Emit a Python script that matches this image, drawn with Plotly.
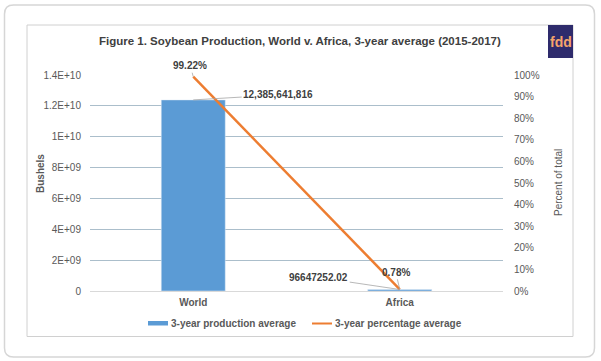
import plotly.graph_objects as go

# ---- data ----
categories = ["World", "Africa"]
production = [12385641816, 96647252.02]
percentage = [0.9922, 0.0078]
prod_labels = ["12,385,641,816", "96647252.02"]
pct_labels = ["99.22%", "0.78%"]
left_ticks = [0, 2e9, 4e9, 6e9, 8e9, 1e10, 1.2e10, 1.4e10]
left_ticktext = ["0", "2E+09", "4E+09", "6E+09", "8E+09", "1E+10", "1.2E+10", "1.4E+10"]

W, H = 601, 361
L, R, T, B = 90, 503, 75, 291
FONT = "Liberation Sans, Arial, sans-serif"


def X(px):
    return (px - L) / (R - L)


def Y(py):
    return (B - py) / (B - T)


fig = go.Figure()
fig.add_trace(go.Bar(
    x=categories, y=production, marker_color="#5b9bd5", width=0.31,
    name="3-year production average", showlegend=False, hoverinfo="skip",
))
fig.add_trace(go.Scatter(
    x=categories, y=percentage, yaxis="y2", mode="lines",
    line=dict(color="#ed7d31", width=2.5),
    name="3-year percentage average", showlegend=False, hoverinfo="skip",
))

shapes = []
annotations = []

# outer card (rounded)
x0, y0, x1, y1, r = 4.5, 5, 594.5, 357, 9
path = (f"M {X(x0+r)},{Y(y0)} L {X(x1-r)},{Y(y0)} Q {X(x1)},{Y(y0)} {X(x1)},{Y(y0+r)} "
        f"L {X(x1)},{Y(y1-r)} Q {X(x1)},{Y(y1)} {X(x1-r)},{Y(y1)} "
        f"L {X(x0+r)},{Y(y1)} Q {X(x0)},{Y(y1)} {X(x0)},{Y(y1-r)} "
        f"L {X(x0)},{Y(y0+r)} Q {X(x0)},{Y(y0)} {X(x0+r)},{Y(y0)} Z")
shapes.append(dict(type="path", xref="paper", yref="paper", path=path,
                   line=dict(color="#d6d6d6", width=1.5), layer="below"))
# inner frame
shapes.append(dict(type="rect", xref="paper", yref="paper",
                   x0=X(27), x1=X(573), y0=Y(25), y1=Y(336.5),
                   line=dict(color="#d0d0d0", width=1), layer="below"))
# logo box
shapes.append(dict(type="rect", xref="paper", yref="paper",
                   x0=X(548), x1=X(573), y0=Y(25), y1=Y(58),
                   fillcolor="#2e2b6c", line=dict(width=0)))
annotations.append(dict(xref="paper", yref="paper", x=X(560.5), y=Y(42), text="<b>fdd</b>",
                        showarrow=False, font=dict(family=FONT, size=14, color="#f5a46b"),
                        xanchor="center", yanchor="middle"))

# title
annotations.append(dict(xref="paper", yref="paper", x=X(300), y=Y(41),
                        text="<b>Figure 1. Soybean Production, World v. Africa, 3-year average (2015-2017)</b>",
                        showarrow=False, font=dict(family=FONT, size=11.5, color="#404040"),
                        xanchor="center", yanchor="middle"))

# axis titles
annotations.append(dict(xref="paper", yref="paper", x=X(40), y=Y(174), text="<b>Bushels</b>",
                        textangle=-90, showarrow=False,
                        font=dict(family=FONT, size=10, color="#595959"),
                        xanchor="center", yanchor="middle"))
annotations.append(dict(xref="paper", yref="paper", x=X(558), y=Y(183), text="Percent of total",
                        textangle=-90, showarrow=False,
                        font=dict(family=FONT, size=10, color="#595959"),
                        xanchor="center", yanchor="middle"))

# data labels
lab_font = dict(family=FONT, size=10, color="#404040")
prod_offsets = [(85, -5), (-81, -12)]
for c, v, t, (ax, ay) in zip(categories, production, prod_labels, prod_offsets):
    annotations.append(dict(x=c, y=v, xref="x", yref="y", text=f"<b>{t}</b>",
                            showarrow=True, arrowhead=0, arrowwidth=0.8, arrowcolor="#a6a6a6",
                            ax=ax, ay=ay, font=lab_font))
pct_offsets = [(-3, -11), (-4, -17)]
for c, v, t, (ax, ay) in zip(categories, percentage, pct_labels, pct_offsets):
    annotations.append(dict(x=c, y=v, xref="x", yref="y2", text=f"<b>{t}</b>",
                            showarrow=True, arrowhead=0, arrowwidth=0.8, arrowcolor="#a6a6a6",
                            ax=ax, ay=ay, font=lab_font))

# manual legend
shapes.append(dict(type="rect", xref="paper", yref="paper",
                   x0=X(148), x1=X(168), y0=Y(321), y1=Y(325.5),
                   fillcolor="#5b9bd5", line=dict(width=0)))
annotations.append(dict(xref="paper", yref="paper", x=X(169), y=Y(323.5),
                        text="<b>3-year production average</b>", showarrow=False,
                        font=dict(family=FONT, size=10, color="#595959"),
                        xanchor="left", yanchor="middle"))
shapes.append(dict(type="line", xref="paper", yref="paper",
                   x0=X(312), x1=X(332), y0=Y(323.5), y1=Y(323.5),
                   line=dict(color="#ed7d31", width=2)))
annotations.append(dict(xref="paper", yref="paper", x=X(333), y=Y(323.5),
                        text="<b>3-year percentage average</b>", showarrow=False,
                        font=dict(family=FONT, size=10, color="#595959"),
                        xanchor="left", yanchor="middle"))

fig.update_layout(
    width=W, height=H,
    margin=dict(l=L, r=W - R, t=T, b=H - B, pad=0),
    paper_bgcolor="white", plot_bgcolor="white",
    font=dict(family=FONT, size=10, color="#595959"),
    showlegend=False,
    xaxis=dict(showgrid=False, showline=False, ticks="",
               tickfont=dict(family=FONT, size=10, color="#595959", weight="bold"),
               ticklabelstandoff=4),
    yaxis=dict(range=[0, 1.4e10], tickvals=left_ticks, ticktext=left_ticktext,
               showgrid=True, gridcolor="#abbecb", gridwidth=1,
               zeroline=True, zerolinecolor="#d9d9d9", zerolinewidth=1,
               showline=False, ticks="", ticklabelstandoff=8,
               tickfont=dict(family=FONT, size=10, color="#595959")),
    yaxis2=dict(range=[0, 1], overlaying="y", side="right", dtick=0.1, tickformat=".0%",
                showgrid=False, zeroline=False, showline=False, ticks="",
                ticklabelstandoff=10,
                tickfont=dict(family=FONT, size=10, color="#595959")),
    shapes=shapes, annotations=annotations,
)

fig.write_html("out.html", config={"displayModeBar": False},
               post_script="document.body.style.margin='0';document.body.style.overflow='hidden';")
